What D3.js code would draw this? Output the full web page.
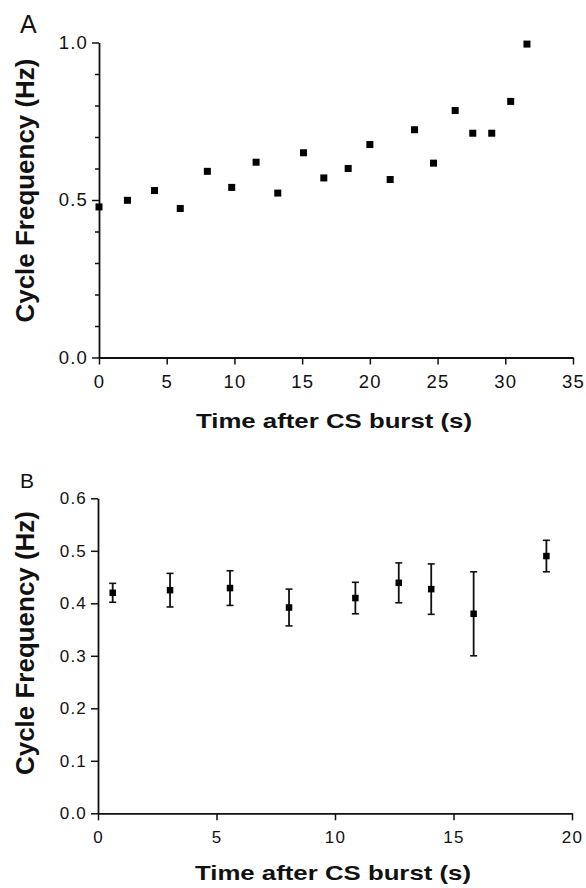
<!DOCTYPE html>
<html lang="en">
<head>
    <meta charset="UTF-8">
    <title>Cycle frequency</title>
    <script src="https://d3js.org/d3.v7.min.js"></script>
    <style>
        body { margin: 0; background: #fff; }
        text { font-family: "Liberation Sans", Arial, sans-serif; fill: #111; }
    </style>
</head>
<body>
    <svg width="586" height="888" id="mainsvg"></svg>

    <script>
        // panel A: single points
        const timeA = [0, 2.1, 4.1, 6.0, 8.0, 9.8, 11.6, 13.2, 15.1, 16.6, 18.4, 20.0, 21.5, 23.3, 24.7, 26.3, 27.6, 29.0, 30.4, 31.6];
        const freqA = [0.478, 0.499, 0.53, 0.473, 0.591, 0.54, 0.62, 0.522, 0.65, 0.57, 0.60, 0.676, 0.565, 0.723, 0.617, 0.784, 0.712, 0.712, 0.813, 0.995];
        const xTicksA = [0, 5, 10, 15, 20, 25, 30, 35];
        const yTicksA = [0, 0.5, 1.0];
        const yMinorA = [0.1, 0.2, 0.3, 0.4, 0.6, 0.7, 0.8, 0.9];

        // panel B: mean +/- error
        const timeB = [0.62, 3.04, 5.57, 8.06, 10.86, 12.69, 14.06, 15.85, 18.92];
        const freqB = [0.42, 0.425, 0.429, 0.392, 0.41, 0.439, 0.427, 0.38, 0.49];
        const errB = [0.018, 0.032, 0.033, 0.035, 0.03, 0.038, 0.048, 0.08, 0.03];
        const xTicksB = [0, 5, 10, 15, 20];
        const yTicksB = [0, 0.1, 0.2, 0.3, 0.4, 0.5, 0.6];

        const svg = d3.select('#mainsvg');

        function drawPanel(opt) {
            const x = d3.scaleLinear().domain(opt.xDomain).range(opt.xRange);
            const y = d3.scaleLinear().domain(opt.yDomain).range(opt.yRange);
            const g = svg.append('g');

            // minor ticks first so the main axis line sits on top
            if (opt.yMinor) {
                g.append('g')
                    .attr('transform', `translate(${opt.xRange[0]},0)`)
                    .call(d3.axisLeft(y).tickValues(opt.yMinor).tickFormat('').tickSize(4).tickSizeOuter(0))
                    .call(a => a.select('.domain').remove());
            }

            const xAxis = g.append('g')
                .attr('transform', `translate(0,${opt.yRange[0]})`)
                .call(d3.axisBottom(x).tickValues(opt.xTicks).tickFormat(d3.format('d'))
                    .tickSize(7).tickSizeOuter(0).tickPadding(opt.xPad));
            const yAxis = g.append('g')
                .attr('transform', `translate(${opt.xRange[0]},0)`)
                .call(d3.axisLeft(y).tickValues(opt.yTicks).tickFormat(d3.format('.1f'))
                    .tickSize(7).tickSizeOuter(0).tickPadding(4));

            g.selectAll('.domain').attr('stroke', '#111').attr('stroke-width', 1.8);
            g.selectAll('.tick line').attr('stroke', '#111').attr('stroke-width', 1.5);
            g.selectAll('.tick text')
                .attr('font-family', '"Liberation Sans", Arial, sans-serif')
                .attr('font-size', opt.tickFont)
                .attr('fill', '#111')
                .attr('letter-spacing', 1.2);

            // error bars
            if (opt.err) {
                opt.xs.forEach((t, i) => {
                    const cx = x(t);
                    const lo = y(opt.ys[i] - opt.err[i]);
                    const hi = y(opt.ys[i] + opt.err[i]);
                    g.append('line').attr('x1', cx).attr('x2', cx).attr('y1', lo).attr('y2', hi)
                        .attr('stroke', '#111').attr('stroke-width', 1.8);
                    [lo, hi].forEach(v => {
                        g.append('line').attr('x1', cx - 3.5).attr('x2', cx + 3.5).attr('y1', v).attr('y2', v)
                            .attr('stroke', '#111').attr('stroke-width', 1.6);
                    });
                });
            }

            // square markers
            const s = opt.markSize;
            g.selectAll('rect.pt')
                .data(opt.xs.map((t, i) => ({ t: t, v: opt.ys[i] })))
                .join('rect')
                .attr('class', 'pt')
                .attr('x', d => x(d.t) - s / 2)
                .attr('y', d => y(d.v) - s / 2)
                .attr('width', s)
                .attr('height', s)
                .attr('fill', '#000');

            // axis titles
            const xMid = (opt.xRange[0] + opt.xRange[1]) / 2 - 2;
            g.append('text').text('Time after CS burst (s)')
                .attr('x', xMid).attr('y', opt.xTitleY)
                .attr('text-anchor', 'middle')
                .attr('font-size', 21).attr('font-weight', 'bold')
                .attr('textLength', 276).attr('lengthAdjust', 'spacingAndGlyphs');

            g.append('text').text('Cycle Frequency (Hz)')
                .attr('transform', `translate(34,${opt.yTitleMid}) rotate(-90)`)
                .attr('text-anchor', 'middle')
                .attr('font-size', 25).attr('font-weight', 'bold')
                .attr('textLength', opt.yTitleLen).attr('lengthAdjust', 'spacingAndGlyphs');

            // panel letter
            g.append('text').text(opt.label)
                .attr('x', 20).attr('y', opt.labelY)
                .attr('font-size', opt.labelFont);
        }

        drawPanel({
            xs: timeA, ys: freqA, err: null,
            xDomain: [0, 35], xRange: [99, 573],
            yDomain: [0, 1], yRange: [357.5, 42.5],
            xTicks: xTicksA, yTicks: yTicksA, yMinor: yMinorA,
            tickFont: 18.5, xPad: 10, markSize: 7,
            xTitleY: 427.5, yTitleMid: 190.5, yTitleLen: 264,
            label: 'A', labelY: 33, labelFont: 25
        });

        drawPanel({
            xs: timeB, ys: freqB, err: errB,
            xDomain: [0, 20], xRange: [98, 572],
            yDomain: [0, 0.6], yRange: [813.3, 498.3],
            xTicks: xTicksB, yTicks: yTicksB, yMinor: null,
            tickFont: 17, xPad: 11, markSize: 6.5,
            xTitleY: 880, yTitleMid: 643, yTitleLen: 264,
            label: 'B', labelY: 488, labelFont: 21
        });
    </script>
</body>
</html>
